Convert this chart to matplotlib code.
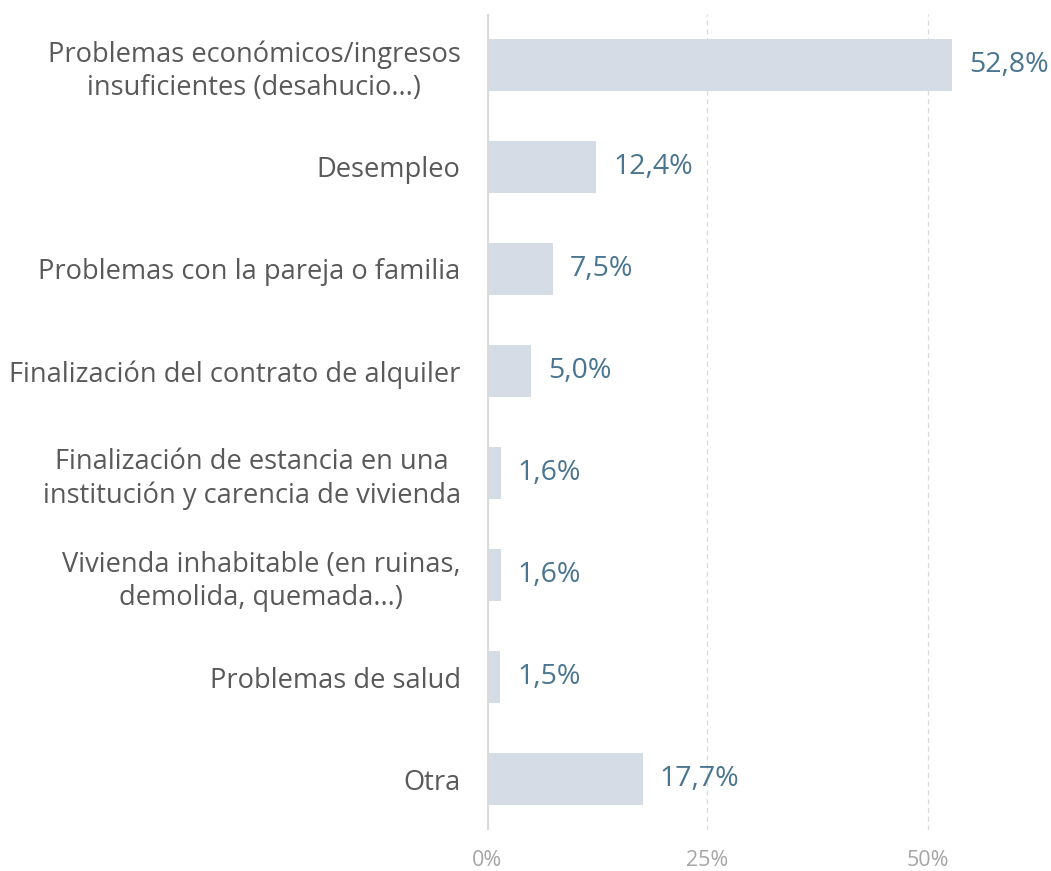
import matplotlib.pyplot as plt

categories = [
    "Problemas económicos/ingresos\ninsuficientes (desahucio...)",
    "Desempleo",
    "Problemas con la pareja o familia",
    "Finalización del contrato de alquiler",
    "Finalización de estancia en una\ninstitución y carencia de vivienda",
    "Vivienda inhabitable (en ruinas,\ndemolida, quemada...)",
    "Problemas de salud",
    "Otra",
]
values = [52.8, 12.4, 7.5, 5.0, 1.6, 1.6, 1.5, 17.7]
xticks = [0, 25, 50]
xtick_labels = ["0%", "25%", "50%"]

plt.rcParams["font.family"] = ["Open Sans", "DejaVu Sans"]

fig = plt.figure(figsize=(10.51, 8.71), dpi=100)
ax = fig.add_axes([0.4634, 0.047, 0.52, 0.937])

pos = list(range(len(categories)))
ax.barh(pos, values, height=0.51, color="#d6dce5", zorder=2)

# value labels next to each bar, decimal comma
for y, v in zip(pos, values):
    ax.text(v + 1.9, y, f"{v:.1f}%".replace(".", ","), va="center", ha="left",
            fontsize=20.5, color="#4a7590", zorder=3)

ax.set_ylim(len(categories) - 0.5, -0.5)
ax.set_xlim(0, 62)
ax.set_yticks(pos)
ax.set_yticklabels(categories, fontsize=19.6, color="#595959",
                   multialignment="center", linespacing=1.25)
ax.set_xticks(xticks)
ax.set_xticklabels(xtick_labels, fontsize=15.5, color="#a6a6a6")

for s in ax.spines.values():
    s.set_visible(False)
ax.axvline(0, color="#d9d9d9", lw=3, zorder=4)
for g in xticks[1:]:
    ax.axvline(g, color="#d9d9d9", lw=0.9, ls=(0, (4, 3)), zorder=1)

ax.tick_params(axis="both", length=0)
ax.tick_params(axis="y", pad=19)
ax.tick_params(axis="x", pad=14)

fig.savefig("out.png", dpi=100)
